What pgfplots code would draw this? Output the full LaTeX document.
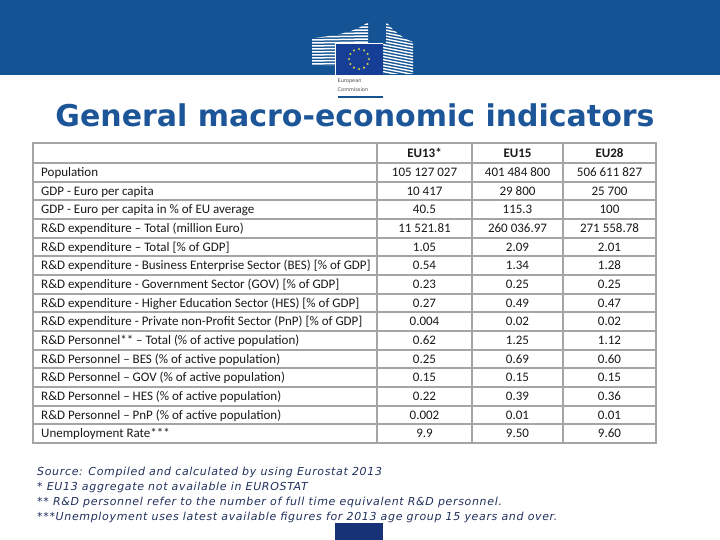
\documentclass[border=0pt]{standalone}
\usepackage{pgfplots}
\pgfplotsset{compat=1.18}
\usepackage{pgfplotstable}
\usepackage{fontspec}
\setmainfont{Carlito}
\newfontfamily\dejavu{DejaVu Sans}
\newfontfamily\notefont{DejaVu Sans}[LetterSpace=6]
\usetikzlibrary{shapes.geometric}
\definecolor{ecblue}{RGB}{21,84,148}
\definecolor{titleblue}{RGB}{28,86,152}
\definecolor{flagblue}{RGB}{22,62,150}
\definecolor{navy}{RGB}{24,50,120}
\definecolor{notecol}{RGB}{32,48,92}
\definecolor{gridgray}{RGB}{165,165,165}
\definecolor{txt}{RGB}{25,25,25}

\pgfplotstableread[col sep=semicolon]{
label;eu13;eu15;eu28
Population;105 127 027;401 484 800;506 611 827
GDP - Euro per capita;10 417;29 800;25 700
GDP - Euro per capita in \% of EU average;40.5;115.3;100
R\&D expenditure -- Total (million Euro);11 521.81;260 036.97;271 558.78
R\&D expenditure -- Total [\% of GDP];1.05;2.09;2.01
R\&D expenditure - Business Enterprise Sector (BES) [\% of GDP];0.54;1.34;1.28
R\&D expenditure - Government Sector (GOV) [\% of GDP];0.23;0.25;0.25
R\&D expenditure - Higher Education Sector (HES) [\% of GDP];0.27;0.49;0.47
R\&D expenditure - Private non-Profit Sector (PnP) [\% of GDP];0.004;0.02;0.02
R\&D Personnel** -- Total (\% of active population);0.62;1.25;1.12
R\&D Personnel -- BES (\% of active population);0.25;0.69;0.60
R\&D Personnel -- GOV (\% of active population);0.15;0.15;0.15
R\&D Personnel -- HES (\% of active population);0.22;0.39;0.36
R\&D Personnel -- PnP (\% of active population);0.002;0.01;0.01
Unemployment Rate***;9.9;9.50;9.60
}\datatable

\begin{document}
\begin{tikzpicture}
\begin{scope}[x=1bp,y=-1bp,shift={(0bp,540bp)}]
  % top band
  \fill[ecblue] (0,0) rectangle (720,75);
  % left building
  \begin{scope}
    \clip (312,66) -- (312,38) .. controls (335,36) and (356,32) .. (368,22) -- (368,43) -- (335,43) -- (335,66) -- cycle;
    \foreach \yy in {22,25,...,67} \draw[white, line width=1.5bp] (310,\yy) -- (370,\yy-1);
  \end{scope}
  % right building
  \begin{scope}
    \clip (386,22) .. controls (395,32) and (402,38) .. (413,42) -- (413,74) -- (383,74) -- (383,43) -- (386,43) -- cycle;
    \foreach \yy in {14,17,...,74} \draw[white, line width=1.4bp] (380,\yy) -- (416,\yy+7);
  \end{scope}
  % flag
  \fill[flagblue] (335,43) rectangle (383,75);
  \draw[white, line width=0.6bp] (335,75) -- (335,43) -- (383,43);
  \foreach \a in {0,30,...,330}
    \node[star, star points=5, star point ratio=2.2, fill={rgb,255:red,240;green,230;blue,60}, inner sep=0pt, minimum size=2.6bp] at ({359+10*cos(\a)},{59+10*sin(\a)}) {};
  \node[anchor=west, inner sep=0pt, font=\dejavu\fontsize{5bp}{5bp}\selectfont, text=gray!60!black] at (337.5,81.5) {European};
  \node[anchor=west, inner sep=0pt, font=\dejavu\fontsize{5bp}{5bp}\selectfont, text=gray!60!black] at (337.5,89.5) {Commission};
  \fill[ecblue] (338,96) rectangle (383,98);
  % title
  \node[inner sep=0pt, text=titleblue, font=\dejavu\bfseries\fontsize{30bp}{32bp}\selectfont] at (355,115) {General macro-economic indicators};
  % table grid
  \foreach \k in {0,...,15}
    \draw[gridgray, line width=2bp] (33,{163+18.67*\k}) -- (656,{163+18.67*\k});
  \draw[gridgray, line width=2bp] (33,143) -- (656,143);
  \foreach \xx in {33,377,472,563,656}
    \draw[gridgray, line width=2bp] (\xx,142) -- (\xx,444);
  % footnotes
  \begin{scope}[every node/.style={anchor=base west, inner sep=0pt, text=notecol, font=\notefont\itshape\fontsize{11bp}{12bp}\selectfont}]
    \node at (37,476) {Source: Compiled and calculated by using Eurostat 2013};
    \node at (37,491) {* EU13 aggregate not available in EUROSTAT};
    \node at (37,506) {** R\&D personnel refer to the number of full time equivalent R\&D personnel.};
    \node at (37,520.5) {***Unemployment uses latest available figures for 2013 age group 15 years and over.};
  \end{scope}
  % bottom block
  \fill[navy] (335,523) rectangle (383,540);
\end{scope}

\begin{axis}[at={(0,0)}, anchor=south west,
  width=720bp, height=540bp, scale only axis,
  xmin=0, xmax=720, ymin=0, ymax=540, y dir=reverse,
  axis lines=none, clip=false]
  % header
  \addplot[draw=none, mark=none, nodes near coords, point meta=explicit symbolic,
    every node near coord/.style={anchor=base, inner sep=0pt, text=txt, font=\bfseries\fontsize{13bp}{14bp}\selectfont}]
    coordinates {(424.5,157.3) [EU13*] (517.5,157.3) [EU15] (609.5,157.3) [EU28]};
  % row labels
  \addplot[draw=none, mark=none, nodes near coords, point meta=explicit symbolic,
    every node near coord/.style={anchor=base west, inner sep=0pt, text=txt, font=\fontsize{13bp}{14bp}\selectfont}]
    table[x expr=41, y expr=176.6+18.67*\coordindex, meta=label] {\datatable};
  \addplot[draw=none, mark=none, nodes near coords, point meta=explicit symbolic,
    every node near coord/.style={anchor=base, inner sep=0pt, text=txt, font=\fontsize{13bp}{14bp}\selectfont}]
    table[x expr=424.5, y expr=176.6+18.67*\coordindex, meta=eu13] {\datatable};
  \addplot[draw=none, mark=none, nodes near coords, point meta=explicit symbolic,
    every node near coord/.style={anchor=base, inner sep=0pt, text=txt, font=\fontsize{13bp}{14bp}\selectfont}]
    table[x expr=517.5, y expr=176.6+18.67*\coordindex, meta=eu15] {\datatable};
  \addplot[draw=none, mark=none, nodes near coords, point meta=explicit symbolic,
    every node near coord/.style={anchor=base, inner sep=0pt, text=txt, font=\fontsize{13bp}{14bp}\selectfont}]
    table[x expr=609.5, y expr=176.6+18.67*\coordindex, meta=eu28] {\datatable};
\end{axis}
\end{tikzpicture}
\end{document}
